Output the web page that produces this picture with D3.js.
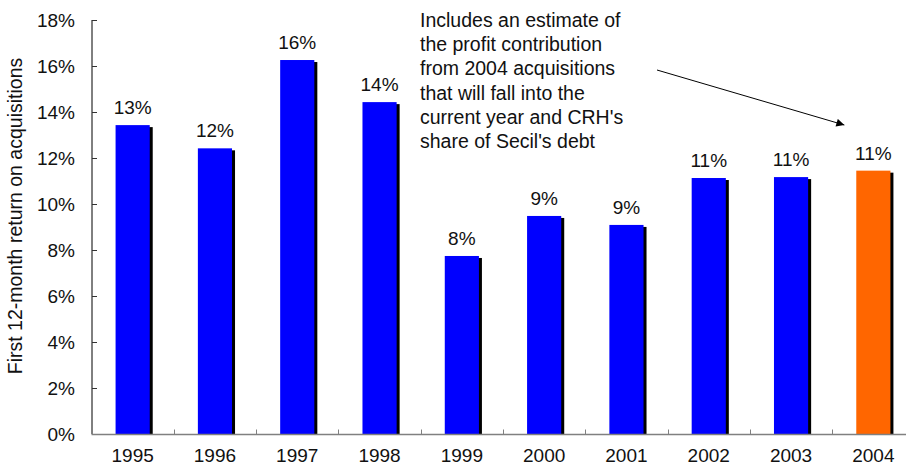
<!DOCTYPE html>
<html>
<head>
<meta charset="utf-8">
<script src="https://cdn.jsdelivr.net/npm/d3@7"></script>
<style>
  html, body { margin: 0; padding: 0; background: #fff; }
  svg { display: block; font-family: "Liberation Sans", Arial, sans-serif; }
</style>
</head>
<body>
<svg id="chart" width="906" height="471"></svg>
<script>
// Return in the first 12 months on acquisitions, by year
const years = ["1995", "1996", "1997", "1998", "1999", "2000", "2001", "2002", "2003", "2004"];
const returns = [0.1343, 0.1242, 0.1626, 0.1443, 0.0774, 0.0948, 0.0909, 0.1113, 0.1117, 0.1145];
const highlightYear = "2004";
const yTicks = [0, 0.02, 0.04, 0.06, 0.08, 0.10, 0.12, 0.14, 0.16, 0.18];
const yTitle = "First 12-month return on acquisitions";
const noteLines = [
  "Includes an estimate of",
  "the profit contribution",
  "from 2004 acquisitions",
  "that will fall into the",
  "current year and CRH's",
  "share of Secil's debt"
];

const svg = d3.select("#chart");
const x0 = 91.5, bandW = 82.3;
const x = d3.scaleBand().domain(years).range([x0, x0 + bandW * years.length]).padding(0);
const y = d3.scaleLinear().domain([0, 0.18]).range([434, 20]);
const barW = x.bandwidth() * 0.415;
const fmt = d3.format(".0%");

// bars: black drop shadow, then the coloured bar
const g = svg.append("g");
const bars = g.selectAll("g.bar").data(years.map((yr, i) => ({ yr, v: returns[i] })))
  .join("g").attr("class", "bar");
bars.append("rect")
  .attr("x", d => x(d.yr) + (x.bandwidth() - barW) / 2 + 3)
  .attr("y", d => y(d.v) + 2)
  .attr("width", barW)
  .attr("height", d => y(0) - y(d.v) - 2)
  .attr("fill", "#000");
bars.append("rect")
  .attr("x", d => x(d.yr) + (x.bandwidth() - barW) / 2)
  .attr("y", d => y(d.v))
  .attr("width", barW)
  .attr("height", d => y(0) - y(d.v))
  .attr("fill", d => d.yr === highlightYear ? "#FF6600" : "#0000FF");
bars.append("text")
  .attr("x", d => x(d.yr) + x.bandwidth() / 2)
  .attr("y", d => y(d.v) - 11)
  .attr("text-anchor", "middle")
  .attr("font-size", 19)
  .attr("fill", "#111")
  .text(d => fmt(d.v));

// y axis
const yAxis = svg.append("g")
  .attr("transform", `translate(${x0 + 0.5},0)`)
  .call(d3.axisRight(y).tickValues(yTicks).tickSize(5).tickFormat(""));
yAxis.select(".domain").attr("stroke", "#000").attr("d", `M0,${y(0.18)}V${y(0)}`);
yAxis.selectAll(".tick line").attr("stroke", "#333");
svg.append("g").selectAll("text").data(yTicks).join("text")
  .attr("x", 75)
  .attr("y", d => y(d) + 7)
  .attr("text-anchor", "end")
  .attr("font-size", 19)
  .attr("fill", "#111")
  .text(d => fmt(d));

// x axis (grey) with ticks between categories
const xAxis = svg.append("g").attr("transform", `translate(0,${y(0) + 0.5})`);
xAxis.append("line")
  .attr("x1", x0).attr("x2", 906)
  .attr("stroke", "#808080").attr("stroke-width", 1.5);
xAxis.selectAll("line.tk").data(years.slice(1)).join("line").attr("class", "tk")
  .attr("x1", d => Math.round(x(d)) + 0.5).attr("x2", d => Math.round(x(d)) + 0.5)
  .attr("y1", 0).attr("y2", -5)
  .attr("stroke", "#808080");
svg.append("g").selectAll("text").data(years).join("text")
  .attr("x", d => x(d) + x.bandwidth() / 2)
  .attr("y", 462)
  .attr("text-anchor", "middle")
  .attr("font-size", 19)
  .attr("fill", "#111")
  .text(d => d);

// y axis title
svg.append("text")
  .attr("transform", "translate(22,216) rotate(-90)")
  .attr("text-anchor", "middle")
  .attr("font-size", 19.5)
  .attr("fill", "#111")
  .text(yTitle);

// annotation with arrow pointing at the highlighted year
const note = svg.append("text")
  .attr("x", 420).attr("y", 27)
  .attr("font-size", 19.5)
  .attr("fill", "#111");
note.selectAll("tspan").data(noteLines).join("tspan")
  .attr("x", 420)
  .attr("dy", (d, i) => i === 0 ? 0 : 24.2)
  .text(d => d);

svg.append("defs").append("marker")
  .attr("id", "arrowhead")
  .attr("viewBox", "0 0 10 10")
  .attr("refX", 10).attr("refY", 5)
  .attr("markerWidth", 10).attr("markerHeight", 8)
  .attr("markerUnits", "userSpaceOnUse")
  .attr("orient", "auto")
  .append("path").attr("d", "M0,0L10,5L0,10Z").attr("fill", "#000");
svg.append("line")
  .attr("x1", 657).attr("y1", 70)
  .attr("x2", x(highlightYear) + x.bandwidth() / 2 - 29).attr("y2", 125)
  .attr("stroke", "#000").attr("stroke-width", 1)
  .attr("marker-end", "url(#arrowhead)");
</script>
</body>
</html>
